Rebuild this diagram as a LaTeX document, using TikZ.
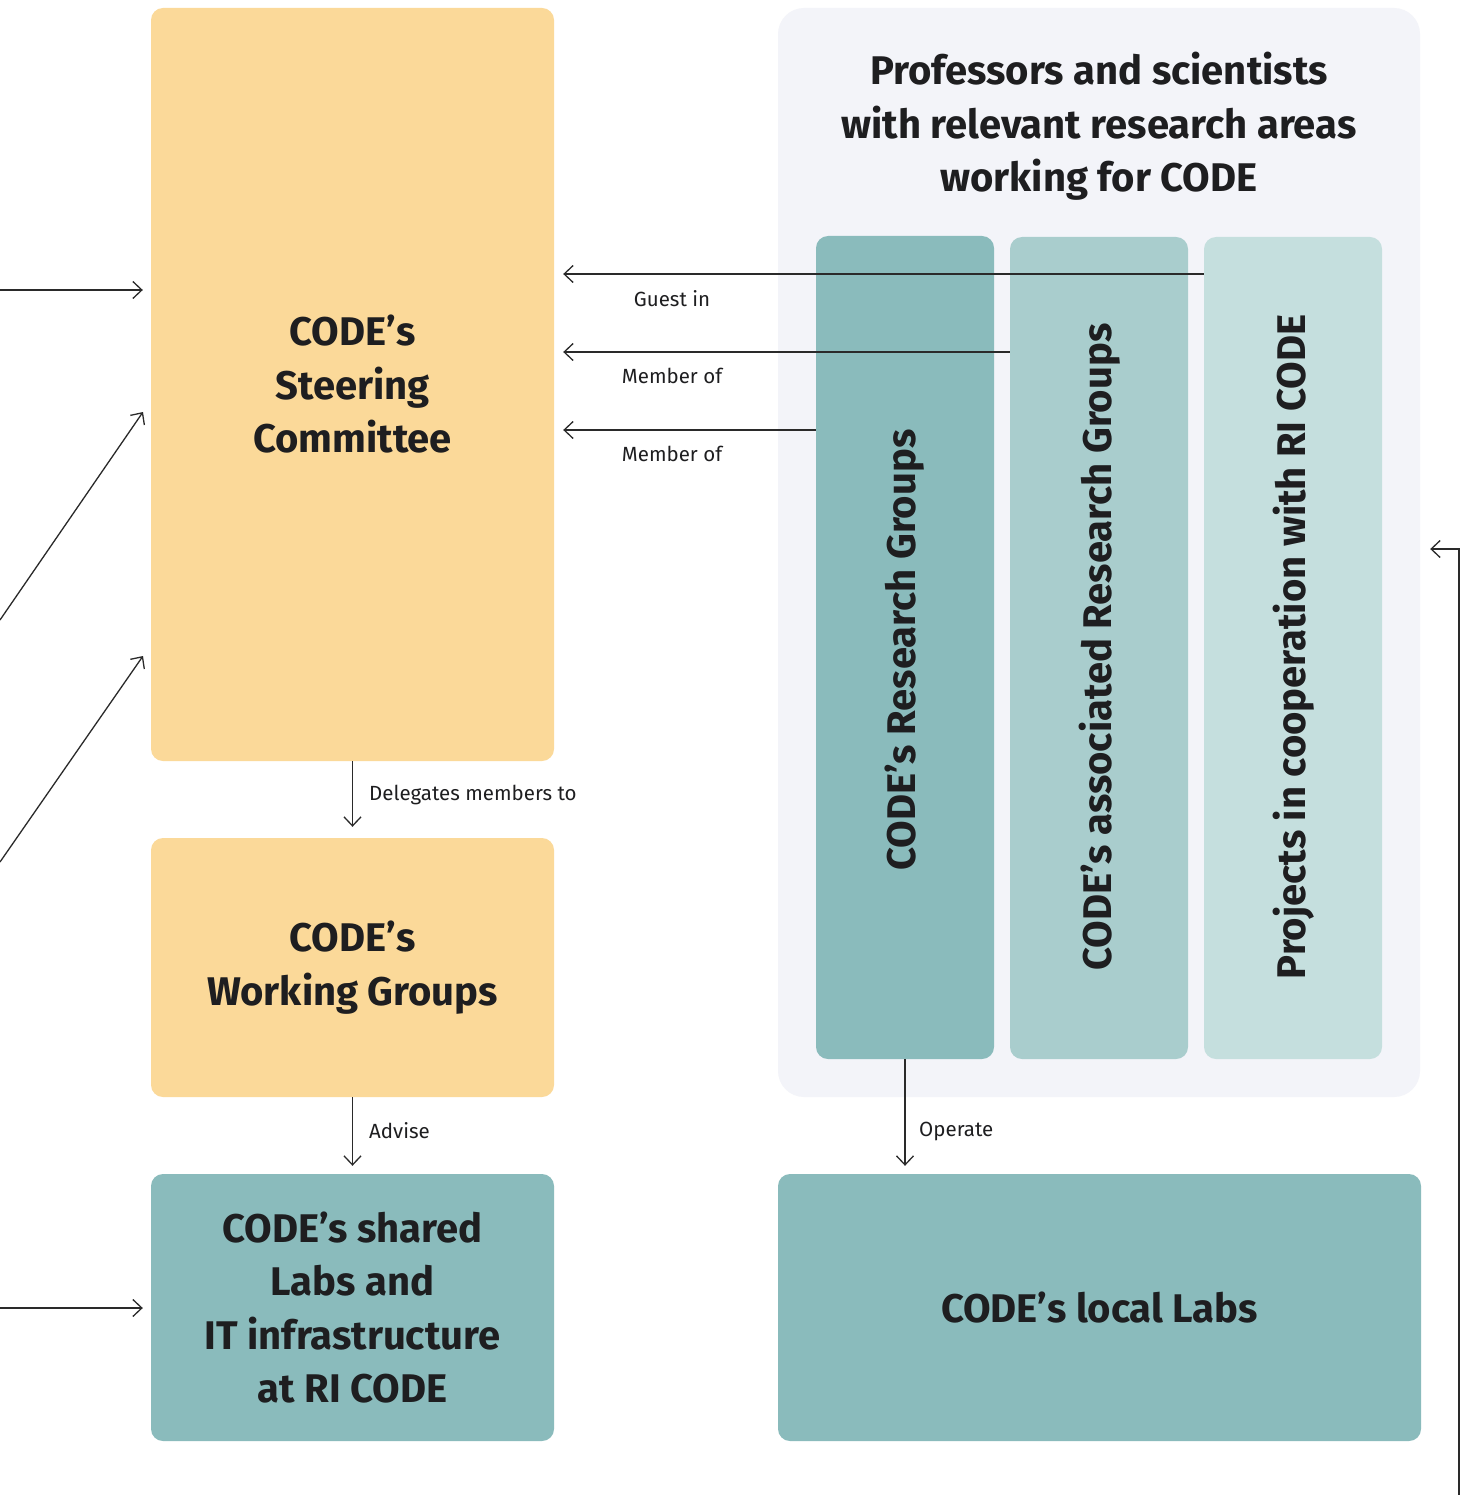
\documentclass[tikz,border=0pt]{standalone}
\usepackage{fontspec}
\setmainfont{Fira Sans}
\usetikzlibrary{arrows.meta}
\definecolor{ylw}{HTML}{FBD999}
\definecolor{teal1}{HTML}{8ABBBC}
\definecolor{teal2}{HTML}{A9CDCD}
\definecolor{teal3}{HTML}{C5DFDE}
\definecolor{bgpanel}{HTML}{F3F4F9}
\definecolor{ink}{HTML}{1E1E20}
\definecolor{linec}{HTML}{2A2A2A}
\tikzset{
  box/.style={rounded corners=12pt, inner sep=0pt, align=center, text=ink,
    font=\bfseries\fontsize{40}{53.5}\selectfont},
  colbox/.style={box, rounded corners=12pt},
  vtext/.style={text=ink, font=\bfseries\fontsize{40}{48}\selectfont, rotate=90, inner sep=0pt},
  arr/.style={draw=linec, line width=1.3pt, -{Straight Barb[length=9pt,width=17pt,line width=1.3pt]}},
  lbl/.style={text=ink, font=\fontsize{20.5}{24}\selectfont, inner sep=0pt},
}
\begin{document}
\begin{tikzpicture}[x=1pt,y=-1pt]
\useasboundingbox (0,0) rectangle (1469,1495);
\fill[white] (0,0) rectangle (1469,1495);
% left column boxes
\node[box, fill=ylw, minimum width=403pt, minimum height=753pt] (sc) at (352.5,384.5) {CODE’s\\Steering\\Committee};
\node[box, fill=ylw, minimum width=403pt, minimum height=259pt] (wg) at (352.5,967.5) {CODE’s\\Working Groups};
\node[box, fill=teal1, minimum width=403pt, minimum height=267pt] (sl) at (352.5,1307.5) {CODE’s shared\\Labs and\\IT infrastructure\\at RI CODE};
% right panel
\node[box, fill=bgpanel, rounded corners=26pt, minimum width=642pt, minimum height=1089pt] (bg) at (1099,552.5) {};
\node[box, anchor=north] (title) at (1099,52) {Professors and scientists\\with relevant research areas\\working for CODE};
\node[colbox, fill=teal1, minimum width=178pt, minimum height=823pt] (c1) at (905,647.5) {};
\node[colbox, fill=teal2, minimum width=178pt, minimum height=822pt] (c2) at (1099,648) {};
\node[colbox, fill=teal3, minimum width=178pt, minimum height=822pt] (c3) at (1293,648) {};
\node[vtext] (t1) at (905,650) {CODE’s Research Groups};
\node[vtext] (t2) at (1100,647) {CODE’s associated Research Groups};
\node[vtext] (t3) at (1294,647) {Projects in cooperation with RI CODE};
\node[box, fill=teal1, minimum width=643pt, minimum height=267pt] (ll) at (1099.5,1307.5) {CODE’s local Labs};
% coordinates for free ends
\coordinate (l1) at (0,290);
\coordinate (l2) at (0,620);
\coordinate (l2e) at (143,412);
\coordinate (l3) at (0,862);
\coordinate (l3e) at (143,656);
\coordinate (l4) at (0,1308);
\coordinate (gy) at (0,274);
\coordinate (my1) at (0,352);
\coordinate (my2) at (0,430);
\coordinate (rb) at (1459,1500);
\coordinate (rt) at (1459,549);
% left incoming arrows
\draw[arr] (l1) -- ([xshift=-8pt]sc.west |- l1);
\draw[arr] (l2) -- (l2e);
\draw[arr] (l3) -- (l3e);
\draw[arr] (l4) -- ([xshift=-8pt]sl.west |- l4);
% membership arrows
\draw[arr] (c3.west |- gy) -- ([xshift=9pt]sc.east |- gy);
\draw[arr] (c2.west |- my1) -- ([xshift=9pt]sc.east |- my1);
\draw[arr] (c1.west |- my2) -- ([xshift=9pt]sc.east |- my2);
\node[lbl] (lg) at (672,299) {Guest in};
\node[lbl] (lm1) at (672,376) {Member of};
\node[lbl] (lm2) at (672,454) {Member of};
% vertical arrows
\draw[arr] (sc.south) -- ([yshift=11pt]wg.north);
\node[lbl, anchor=west] (ld) at (369,795) {Delegates members to};
\draw[arr] (wg.south) -- ([yshift=8pt]sl.north);
\node[lbl, anchor=west] (la) at (369,1131) {Advise};
\draw[arr] (c1.south) -- ([yshift=8pt]ll.north -| c1.south);
\node[lbl, anchor=west] (lo) at (919,1131) {Operate};
% right return arrow
\draw[arr] (rb) -- (rt) -- ([xshift=10pt]bg.east |- rt);
\end{tikzpicture}
\end{document}
